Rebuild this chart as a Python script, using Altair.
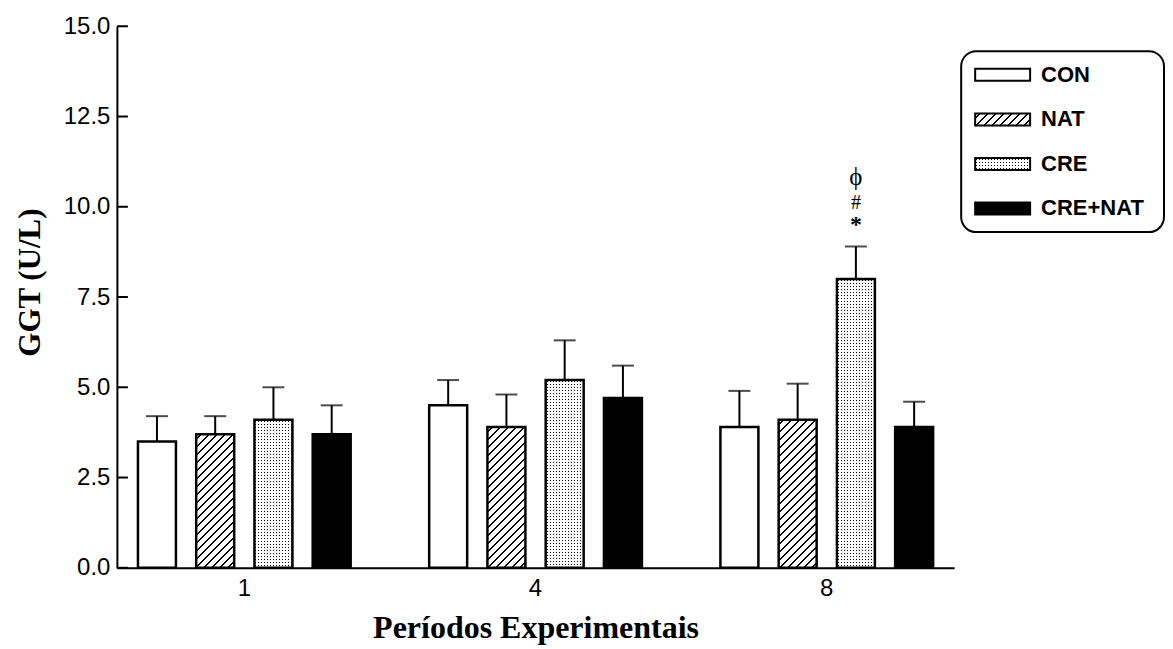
import altair as alt
import pandas as pd

# ---------------- data ----------------
periods = ["1", "4", "8"]
groups = ["CON", "NAT", "CRE", "CRE+NAT"]
con_mean = [3.5, 4.5, 3.9]
nat_mean = [3.7, 3.9, 4.1]
cre_mean = [4.1, 5.2, 8.0]
crenat_mean = [3.7, 4.7, 3.9]
con_sem = [0.7, 0.7, 1.0]
nat_sem = [0.5, 0.9, 1.0]
cre_sem = [0.9, 1.1, 0.9]
crenat_sem = [0.8, 0.9, 0.7]
y_ticks = [0, 2.5, 5, 7.5, 10, 12.5, 15]
annot_labels = ["*", "#", "\u03d5"]
annot_period = "8"
annot_group = "CRE"

means = {"CON": con_mean, "NAT": nat_mean, "CRE": cre_mean, "CRE+NAT": crenat_mean}
sems = {"CON": con_sem, "NAT": nat_sem, "CRE": cre_sem, "CRE+NAT": crenat_sem}
rows = []
for g in groups:
    for i, p in enumerate(periods):
        rows.append({"period": p, "group": g, "mean": means[g][i],
                     "top": round(means[g][i] + sems[g][i], 3)})
df = pd.DataFrame(rows)
ticks_df = pd.DataFrame({"v": y_ticks})

# ---------------- layout / style ----------------
W, H = 838, 542
YMAX = 15.0
PX = H / YMAX
P_IN, P_OUT = 0.2, 0.0375
SP_IN, SP_OUT = 0.348, 0.174
STEP = W / (len(periods) - P_IN + 2 * P_OUT)
BW = STEP * (1 - P_IN)
SUB = BW / (len(groups) - SP_IN + 2 * SP_OUT)
BAR_W = SUB * (1 - SP_IN)
LEG_W, LEG_H = 203, 181
SPACER_H = 24

WHITE = "#ffffff"
CLEAR = "rgba(255,255,255,0)"


def hatch(w, h, period=8.0, lw=2.2):
    total = w + h
    c = total / (w * w + h * h)
    stops = [{"offset": 0, "color": WHITE}]
    pos = period / 2.0
    while pos < total:
        a = pos / total
        b = min((pos + lw) / total, 1.0)
        stops += [{"offset": a, "color": WHITE}, {"offset": a, "color": "#000000"},
                  {"offset": b, "color": "#000000"}, {"offset": b, "color": WHITE}]
        pos += period
    stops.append({"offset": 1, "color": WHITE})
    return {"gradient": "linear", "x1": 0, "y1": 0, "x2": c * w, "y2": c * h, "stops": stops}


def stripes(length, horizontal, period=3.0, lw=1.0):
    stops = [{"offset": 0, "color": WHITE}]
    pos = 1.0
    while pos + lw < length:
        a = pos / length
        b = (pos + lw) / length
        stops += [{"offset": a, "color": WHITE}, {"offset": a, "color": CLEAR},
                  {"offset": b, "color": CLEAR}, {"offset": b, "color": WHITE}]
        pos += period
    stops.append({"offset": 1, "color": WHITE})
    if horizontal:
        return {"gradient": "linear", "x1": 0, "y1": 0, "x2": 0, "y2": 1, "stops": stops}
    return {"gradient": "linear", "x1": 0, "y1": 0, "x2": 1, "y2": 0, "stops": stops}


x_enc = alt.X("period:N", sort=periods,
              scale=alt.Scale(domain=periods, paddingInner=P_IN, paddingOuter=P_OUT),
              axis=alt.Axis(title="Períodos Experimentais", labelAngle=0, ticks=False,
                            labelPadding=9, titlePadding=12, titleFontSize=32))
xo_enc = alt.XOffset("group:N", sort=groups,
                     scale=alt.Scale(domain=groups, paddingInner=SP_IN, paddingOuter=SP_OUT))
y_scale = alt.Scale(domain=[0, YMAX], nice=False, zero=True)
y_axis = alt.Axis(title="GGT (U/L)", values=y_ticks, format=".1f", ticks=False,
                  labelPadding=7, titlePadding=17, titleY=256, titleFontSize=31)
y_enc = alt.Y("mean:Q", scale=y_scale, axis=y_axis)
top_enc = alt.Y("top:Q", scale=y_scale, axis=y_axis)

base = alt.Chart(df)

err_rule = base.mark_rule(color="black", strokeWidth=2).encode(
    x=x_enc, xOffset=xo_enc, y=y_enc, y2="top:Q")
err_cap = base.mark_tick(color="black", thickness=2, size=22).encode(
    x=x_enc, xOffset=xo_enc, y=top_enc)

layers = [err_rule, err_cap]

stroke_kw = dict(stroke="black", strokeWidth=2.5)

# CON
layers.append(base.transform_filter(alt.datum.group == "CON").mark_bar(
    fill="white", **stroke_kw).encode(x=x_enc, xOffset=xo_enc, y=y_enc))

# NAT - hatched
for i, p in enumerate(periods):
    h = nat_mean[i] * PX
    layers.append(base.transform_filter(
        (alt.datum.group == "NAT") & (alt.datum.period == p)).mark_bar(
        fill=hatch(BAR_W, h), **stroke_kw).encode(x=x_enc, xOffset=xo_enc, y=y_enc))

# CRE - dotted
cre_base = base.transform_filter(alt.datum.group == "CRE")
layers.append(cre_base.mark_bar(fill="black", strokeWidth=0).encode(
    x=x_enc, xOffset=xo_enc, y=y_enc))
layers.append(cre_base.mark_bar(fill=stripes(BAR_W, False), strokeWidth=0).encode(
    x=x_enc, xOffset=xo_enc, y=y_enc))
for i, p in enumerate(periods):
    h = cre_mean[i] * PX
    layers.append(base.transform_filter(
        (alt.datum.group == "CRE") & (alt.datum.period == p)).mark_bar(
        fill=stripes(h, True), strokeWidth=0).encode(x=x_enc, xOffset=xo_enc, y=y_enc))
layers.append(cre_base.mark_bar(fill="transparent", **stroke_kw).encode(
    x=x_enc, xOffset=xo_enc, y=y_enc))

# CRE+NAT
layers.append(base.transform_filter(alt.datum.group == "CRE+NAT").mark_bar(
    fill="black", **stroke_kw).encode(x=x_enc, xOffset=xo_enc, y=y_enc))

# inward y ticks
layers.append(alt.Chart(ticks_df).mark_rule(color="black", strokeWidth=2).encode(
    y=alt.Y("v:Q", scale=y_scale, axis=y_axis), x=alt.value(0), x2=alt.value(11)))

# significance marks
annot_base = base.transform_filter(
    (alt.datum.group == annot_group) & (alt.datum.period == annot_period))
for lab, dy, fs in zip(annot_labels, [-21, -44, -70], [24, 20, 25]):
    layers.append(annot_base.mark_text(text=lab, dy=dy, font="Liberation Serif",
                                       fontSize=fs, fontWeight="bold" if lab == "*" else "normal",
                                       color="black", baseline="middle").encode(
        x=x_enc, xOffset=xo_enc, y=top_enc))

main = alt.layer(*layers).properties(width=W, height=H)

# ---------------- legend ----------------
leg_df = pd.DataFrame({"group": groups})
leg_y = alt.Y("group:N", sort=groups,
              scale=alt.Scale(domain=groups, paddingInner=0, paddingOuter=0.03), axis=None)
leg_base = alt.Chart(leg_df)
leg_fill = {"CON": "white", "NAT": hatch(55, 12, period=8.0, lw=2.0), "CRE": None,
            "CRE+NAT": "black"}
leg_layers = []
for g in groups:
    sel = leg_base.transform_filter(alt.datum.group == g)
    if g == "CRE":
        leg_layers.append(sel.mark_bar(height=12, fill="black", strokeWidth=0).encode(
            y=leg_y, x=alt.value(14), x2=alt.value(69)))
        leg_layers.append(sel.mark_bar(height=12, fill=stripes(55, False), strokeWidth=0).encode(
            y=leg_y, x=alt.value(14), x2=alt.value(69)))
        leg_layers.append(sel.mark_bar(height=12, fill=stripes(12, True), strokeWidth=0).encode(
            y=leg_y, x=alt.value(14), x2=alt.value(69)))
        leg_layers.append(sel.mark_bar(height=12, fill="transparent", stroke="black",
                                       strokeWidth=2).encode(
            y=leg_y, x=alt.value(14), x2=alt.value(69)))
    else:
        leg_layers.append(sel.mark_bar(height=12, fill=leg_fill[g], stroke="black",
                                       strokeWidth=2).encode(
            y=leg_y, x=alt.value(14), x2=alt.value(69)))
leg_layers.append(leg_base.mark_text(align="left", baseline="middle", font="Liberation Sans",
                                     fontWeight="bold", fontSize=22, color="black").encode(
    y=leg_y, x=alt.value(80), text="group:N"))

legend = alt.layer(*leg_layers).properties(
    width=LEG_W, height=LEG_H,
    view=alt.ViewBackground(stroke="black", strokeWidth=2, cornerRadius=15, fill="white"))

spacer = alt.Chart(pd.DataFrame({"group": [""]})).mark_point(opacity=0).properties(
    width=LEG_W, height=SPACER_H)

chart = alt.hconcat(main, alt.vconcat(spacer, legend, spacing=0), spacing=5).properties(
    padding={"left": 5, "top": 5, "right": 0, "bottom": 0}
).configure_view(stroke="transparent").configure_axis(
    domainColor="black", domainWidth=2, grid=False,
    labelFont="Liberation Sans", labelFontSize=24, labelColor="black",
    titleFont="Liberation Serif", titleFontWeight="bold", titleColor="black"
)

chart.save("out.html", embed_options={"renderer": "svg", "actions": False})
